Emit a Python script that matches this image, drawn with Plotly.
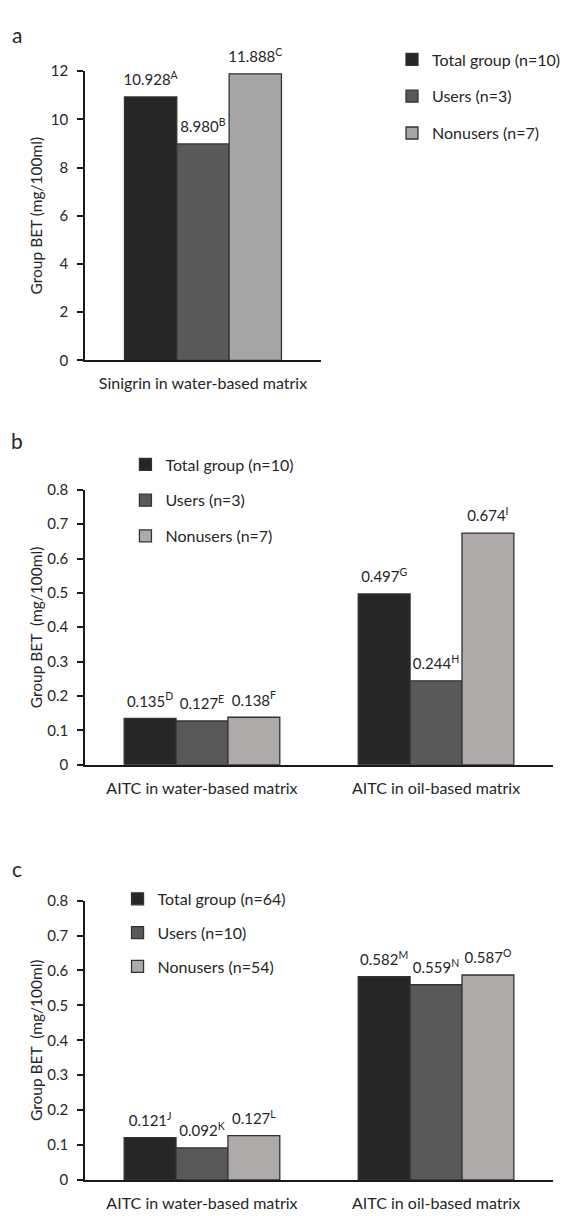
import plotly.graph_objects as go

# ---- data -------------------------------------------------------------
groups_ab = ["Total group (n=10)", "Users (n=3)", "Nonusers (n=7)"]
groups_c = ["Total group (n=64)", "Users (n=10)", "Nonusers (n=54)"]

cats_a = ["Sinigrin in water-based matrix"]
cats_bc = ["AITC in water-based matrix", "AITC in oil-based matrix"]

# panel a: sinigrin, water-based matrix
a_total = [10.928]
a_users = [8.980]
a_nonusers = [11.888]
a_letters = [["A"], ["B"], ["C"]]

# panel b: AITC, small cohort
b_total = [0.135, 0.497]
b_users = [0.127, 0.244]
b_nonusers = [0.138, 0.674]
b_letters = [["D", "G"], ["E", "H"], ["F", "I"]]

# panel c: AITC, full cohort
c_total = [0.121, 0.582]
c_users = [0.092, 0.559]
c_nonusers = [0.127, 0.587]
c_letters = [["J", "M"], ["K", "N"], ["L", "O"]]

# ---- style ------------------------------------------------------------
FONT = "Lato"
TXT = "#262626"
W, H = 566, 1216
colors_a = ["#262626", "#595959", "#a6a6a6"]
colors_bc = ["#262626", "#595959", "#aeaaaa"]


def px_x(p):
    return p / W


def px_y(p):
    return 1 - p / H


fig = go.Figure()


def add_panel(idx, cats, series, names, letters, colors, legend_id):
    ax = "" if idx == 1 else str(idx)
    for k, (vals, name, col) in enumerate(zip(series, names, colors)):
        fig.add_bar(
            x=cats, y=vals, name=name,
            marker=dict(color=col, line=dict(color="#333333", width=1.3)),
            xaxis="x" + ax, yaxis="y" + ax,
            legend=legend_id, legendgroup=f"{legend_id}{k}",
            hoverinfo="skip",
        )
    # value labels above each bar
    for k, (vals, lets) in enumerate(zip(series, letters)):
        fig.add_scatter(
            x=cats, y=vals, mode="markers+text",
            marker=dict(size=11, color="rgba(0,0,0,0)"),
            text=[f"{v:.3f}<sup>{s}</sup>" for v, s in zip(vals, lets)],
            textposition="top center",
            textfont=dict(family=FONT, size=15, color=TXT),
            cliponaxis=False, showlegend=False, hoverinfo="skip",
            xaxis="x" + ax, yaxis="y" + ax,
        )


add_panel(1, cats_a, [a_total, a_users, a_nonusers], groups_ab, a_letters, colors_a, "legend")
add_panel(2, cats_bc, [b_total, b_users, b_nonusers], groups_ab, b_letters, colors_bc, "legend2")
add_panel(3, cats_bc, [c_total, c_users, c_nonusers], groups_c, c_letters, colors_bc, "legend3")

xaxis_common = dict(
    showline=True, linecolor="#1a1a1a", linewidth=1.5, ticks="",
    tickfont=dict(family=FONT, size=16, color=TXT), ticklabelstandoff=8,
    showgrid=False, zeroline=False, fixedrange=True,
)
yaxis_common = dict(
    showline=True, linecolor="#1a1a1a", linewidth=1.5,
    ticks="outside", ticklen=6, tickwidth=1.5, tickcolor="#1a1a1a",
    tickfont=dict(family=FONT, size=15, color=TXT), ticklabelstandoff=6,
    showgrid=False, zeroline=False, fixedrange=True,
)


def legend_style(gap):
    return dict(
        font=dict(family=FONT, size=16, color=TXT), bgcolor="rgba(0,0,0,0)",
        xanchor="left", yanchor="top", traceorder="grouped", tracegroupgap=gap,
        itemclick=False, itemdoubleclick=False,
    )


fig.update_layout(
    width=W, height=H,
    margin=dict(l=0, r=0, t=0, b=0),
    paper_bgcolor="white", plot_bgcolor="white",
    barmode="group", bargap=0.335, bargroupgap=0,
    scattermode="group", scattergap=0.335,
    font=dict(family=FONT, color=TXT),
    xaxis=dict(domain=[px_x(86), px_x(325)], anchor="y", **xaxis_common),
    yaxis=dict(domain=[px_y(355.7), px_y(62)], anchor="x", range=[0, 12], dtick=2, **yaxis_common),
    xaxis2=dict(domain=[px_x(86), px_x(560)], anchor="y2", **xaxis_common),
    yaxis2=dict(domain=[px_y(766), px_y(487)], anchor="x2", range=[0, 0.8], dtick=0.1, **yaxis_common),
    xaxis3=dict(domain=[px_x(86), px_x(560)], anchor="y3", **xaxis_common),
    yaxis3=dict(domain=[px_y(1187.5), px_y(904)], anchor="x3", range=[0, 0.8], dtick=0.1, **yaxis_common),
    legend=dict(x=px_x(397), y=px_y(33), **legend_style(13)),
    legend2=dict(x=px_x(127), y=px_y(444), **legend_style(12)),
    legend3=dict(x=px_x(119), y=px_y(885), **legend_style(10)),
)

# panel letters and y-axis titles
for letter, yp in [("a", 25), ("b", 437), ("c", 871)]:
    fig.add_annotation(
        text=letter, xref="paper", yref="paper", x=px_x(17), y=px_y(yp),
        xanchor="center", yanchor="middle",
        showarrow=False, font=dict(family=FONT, size=21, color=TXT),
    )
for title, yp in [("Group BET (mg/100ml)", 209),
                  ("Group BET\u00a0 (mg/100ml)", 627),
                  ("Group BET\u00a0 (mg/100ml)", 1046)]:
    fig.add_annotation(
        text=title, xref="paper", yref="paper", x=px_x(36), y=px_y(yp),
        xanchor="center", yanchor="middle",
        showarrow=False, textangle=-90, font=dict(family=FONT, size=15.5, color=TXT),
    )

fig.write_html("out.html", config={"displayModeBar": False})
